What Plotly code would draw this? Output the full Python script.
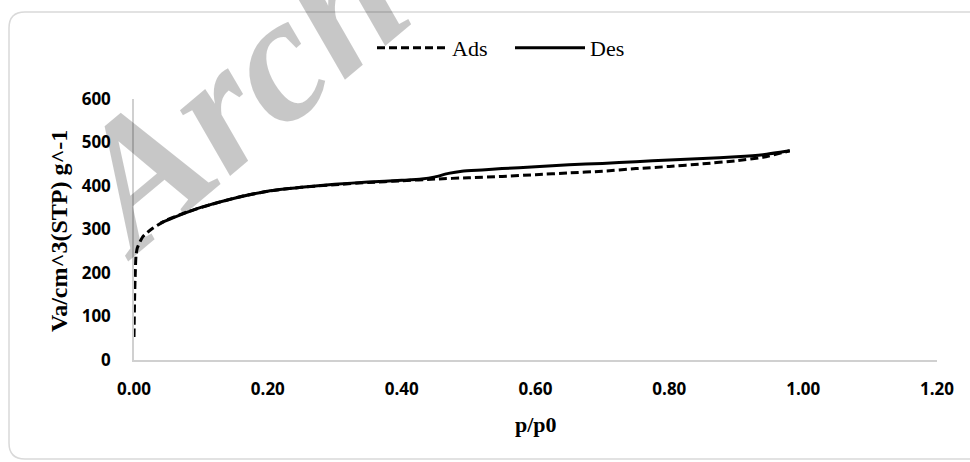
import plotly.graph_objects as go

# Data (p/p0 vs adsorbed volume)
ads_x = [0.000, 0.001, 0.002, 0.003, 0.005, 0.013, 0.028, 0.049, 0.079, 0.114, 0.16, 0.20, 0.25,
         0.30, 0.35, 0.40, 0.45, 0.50, 0.55, 0.60, 0.65, 0.70, 0.75, 0.80, 0.85, 0.90,
         0.94, 0.98]
ads_y = [53, 150, 205, 240, 258, 283, 303, 322, 340, 357, 376, 388, 397,
         403, 408, 412, 416, 419, 422, 426, 430, 434, 440, 445, 451, 458,
         466, 481]

des_x = [0.04, 0.06, 0.08, 0.10, 0.15, 0.20, 0.25, 0.30, 0.35, 0.40, 0.43, 0.45,
         0.47, 0.49, 0.52, 0.55, 0.60, 0.65, 0.70, 0.75, 0.80, 0.85, 0.90, 0.94, 0.98]
des_y = [315, 328, 340, 351, 372, 388, 397, 404, 409, 413, 416, 421,
         429, 434, 437, 440, 444, 449, 452, 456, 460, 463, 467, 472, 481]

x_ticks = [0.0, 0.2, 0.4, 0.6, 0.8, 1.0, 1.2]
x_tick_labels = ["0.00", "0.20", "0.40", "0.60", "0.80", "1.00", "1.20"]
y_ticks = [0, 100, 200, 300, 400, 500, 600]

W, H = 970, 462
ML, MR, MT, MB = 134, 33, 99, 102
PW, PH = W - ML - MR, H - MT - MB


def px(xp):
    return (xp - ML) / PW


def py(yp):
    return (H - MB - yp) / PH


fig = go.Figure()
fig.add_trace(go.Scatter(x=ads_x, y=ads_y, mode="lines", name="Ads",
                         line=dict(color="black", width=3, dash="8px,4px", shape="spline", smoothing=0.6)))
fig.add_trace(go.Scatter(x=des_x, y=des_y, mode="lines", name="Des",
                         line=dict(color="black", width=3, shape="spline", smoothing=0.6)))

tick_font = dict(family="Open Sans", size=17, color="black", weight="bold")
fig.update_xaxes(range=[0, 1.2], tickvals=x_ticks, ticktext=x_tick_labels,
                 showgrid=False, zeroline=False, showline=True, linecolor="#d0d0d0", linewidth=1.5,
                 ticks="", ticklabelstandoff=13, tickfont=tick_font, fixedrange=True)
fig.update_yaxes(range=[0, 600], tickvals=y_ticks,
                 showgrid=False, zeroline=False, showline=True, linecolor="#d0d0d0", linewidth=1.5,
                 ticks="", ticklabelstandoff=18, tickfont=tick_font, fixedrange=True)

# rounded chart border
L, R, T, B, r = 9, 975, 12, 459, 16
rx, ry = r / PW, r / PH
path = (f"M {px(L)+rx},{py(T)} L {px(R)},{py(T)} L {px(R)},{py(B)} L {px(L)+rx},{py(B)} "
        f"Q {px(L)},{py(B)} {px(L)},{py(B)+ry} L {px(L)},{py(T)-ry} "
        f"Q {px(L)},{py(T)} {px(L)+rx},{py(T)} Z")
fig.add_shape(type="path", path=path, xref="paper", yref="paper",
              line=dict(color="#d9d9d9", width=1.5), layer="below")

fig.add_annotation(text="p/p0", x=0.5, y=py(425), xref="paper", yref="paper",
                   showarrow=False, xanchor="center", yanchor="middle",
                   font=dict(family="Liberation Serif", size=22, color="black", weight="bold"))
fig.add_annotation(text="Va/cm^3(STP) g^-1", x=px(59), y=py(231), xref="paper", yref="paper",
                   showarrow=False, textangle=-90, xanchor="center", yanchor="middle",
                   font=dict(family="Liberation Serif", size=24, color="black", weight="bold"))

# watermark
fig.add_annotation(text="Arch", x=px(234), y=py(93), xref="paper", yref="paper",
                   showarrow=False, textangle=-40, xanchor="center", yanchor="middle",
                   font=dict(family="Liberation Serif", size=180, color="rgba(0,0,0,0.22)",
                             weight="bold", style="italic"))

fig.update_layout(
    width=W, height=H,
    margin=dict(l=ML, r=MR, t=MT, b=MB),
    plot_bgcolor="white", paper_bgcolor="white",
    showlegend=True,
    legend=dict(orientation="h", x=px(372), y=py(48), xanchor="left", yanchor="middle",
                font=dict(family="Liberation Serif", size=22, color="black"),
                itemwidth=70, entrywidth=53, bgcolor="rgba(0,0,0,0)", traceorder="normal"),
)

fig.write_html("out.html", config={"displayModeBar": False},
               post_script="document.body.style.margin='0';document.body.style.overflow='hidden';")
